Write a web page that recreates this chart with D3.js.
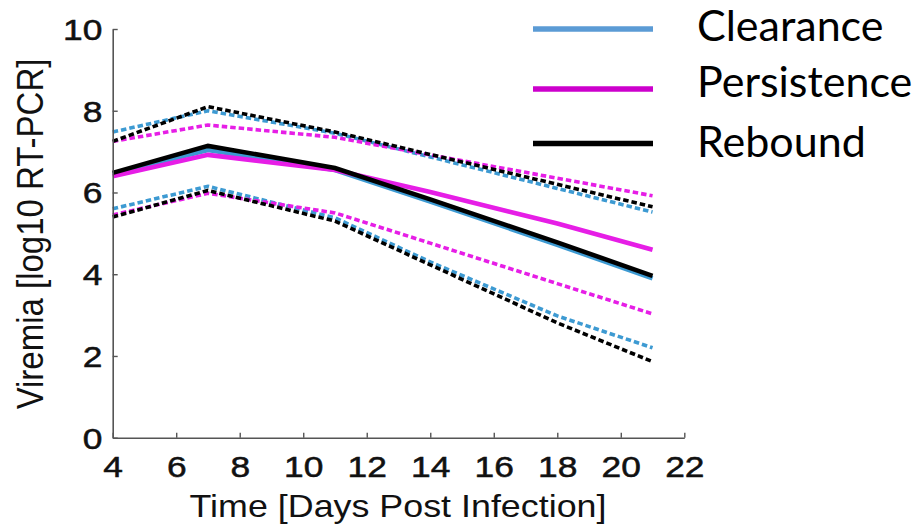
<!DOCTYPE html>
<html>
<head>
<meta charset="utf-8">
<script src="https://cdn.jsdelivr.net/npm/d3@7"></script>
<style>
  body { margin: 0; background: #fff; }
  svg { display: block; }
</style>
</head>
<body>
<div id="chart"></div>
<script>
// days post infection where the curves have vertices
var days = [4, 7, 11, 14, 18, 21];

var clearanceMean  = [6.45, 7.04, 6.55, 5.78, 4.72, 3.90];
var clearanceUpper = [7.48, 8.00, 7.45, 6.87, 6.10, 5.52];
var clearanceLower = [5.60, 6.15, 5.38, 4.30, 2.98, 2.20];

var persistenceMean  = [6.40, 6.92, 6.55, 6.01, 5.24, 4.60];
var persistenceUpper = [7.25, 7.65, 7.35, 6.92, 6.35, 5.92];
var persistenceLower = [5.45, 5.98, 5.50, 4.76, 3.77, 3.03];

var reboundMean  = [6.48, 7.14, 6.60, 5.83, 4.78, 3.96];
var reboundUpper = [7.25, 8.10, 7.48, 6.93, 6.20, 5.65];
var reboundLower = [5.40, 6.05, 5.30, 4.23, 2.81, 1.86];

var groupNames = ["Clearance", "Persistence", "Rebound"];
var xTicks = [4, 6, 8, 10, 12, 14, 16, 18, 20, 22];
var yTicks = [0, 2, 4, 6, 8, 10];

var lineColors   = {Clearance: "#3d9ad2", Persistence: "#e61ee6", Rebound: "#000000"};
var legendColors = {Clearance: "#5b9bd5", Persistence: "#cc00cc", Rebound: "#000000"};

var groups = [
  {name: "Clearance",   mean: clearanceMean,   upper: clearanceUpper,   lower: clearanceLower},
  {name: "Persistence", mean: persistenceMean, upper: persistenceUpper, lower: persistenceLower},
  {name: "Rebound",     mean: reboundMean,     upper: reboundUpper,     lower: reboundLower}
];

var width = 920, height = 524;

var svg = d3.select("#chart")
  .append("svg")
  .attr("width", width)
  .attr("height", height);

var x = d3.scaleLinear().domain([4, 22]).range([112.7, 684.3]);
var y = d3.scaleLinear().domain([0, 10]).range([437.7, 29]);

var line = d3.line()
  .x(function(d){ return x(d[0]); })
  .y(function(d){ return y(d[1]); });

function pts(vals){
  return days.map(function(d, i){ return [d, vals[i]]; });
}

// dashed bounds first, then the means
var plot = svg.append("g");
groups.forEach(function(g){
  [g.upper, g.lower].forEach(function(v){
    plot.append("path")
      .attr("d", line(pts(v)))
      .attr("fill", "none")
      .attr("stroke", lineColors[g.name])
      .attr("stroke-width", 3.6)
      .attr("stroke-dasharray", "5.5,3");
  });
});
groups.forEach(function(g){
  plot.append("path")
    .attr("d", line(pts(g.mean)))
    .attr("fill", "none")
    .attr("stroke", lineColors[g.name])
    .attr("stroke-width", 4.6);
});

// axes
var xAxis = svg.append("g")
  .attr("transform", "translate(0," + y(0) + ")")
  .call(d3.axisBottom(x).tickValues(xTicks).tickSizeInner(-5).tickSizeOuter(0).tickPadding(10));
var yAxis = svg.append("g")
  .attr("transform", "translate(" + x(4) + ",0)")
  .call(d3.axisLeft(y).tickValues(yTicks).tickSizeInner(-5).tickSizeOuter(0).tickPadding(10));

[xAxis, yAxis].forEach(function(a){
  a.select(".domain").attr("stroke", "#555").attr("stroke-width", 1.6);
  a.selectAll(".tick line").attr("stroke", "#555").attr("stroke-width", 1.4);
  a.selectAll("text")
    .attr("fill", "#111")
    .attr("stroke", "#111")
    .attr("stroke-width", 0.5)
    .style("font-family", "'Liberation Sans', Arial, sans-serif")
    .style("font-size", "29px");
});
xAxis.selectAll("text").attr("dy", "0").attr("y", 39).attr("transform", "scale(1.22,1)");
yAxis.selectAll("text").attr("x", -8.5).attr("dy", "0.36em").attr("transform", "scale(1.22,1)");

// axis titles
svg.append("text")
  .attr("transform", "translate(398,517) scale(1.12,1)")
  .attr("text-anchor", "middle")
  .style("font-family", "'Liberation Sans', Arial, sans-serif")
  .style("font-size", "32px")
  .attr("fill", "#111")
  .text("Time [Days Post Infection]");

svg.append("text")
  .attr("transform", "translate(43,234) scale(1.1,1) rotate(-90)")
  .attr("text-anchor", "middle")
  .style("font-family", "'Liberation Sans', Arial, sans-serif")
  .style("font-size", "33px")
  .attr("fill", "#111")
  .text("Viremia [log10 RT-PCR]");

// legend
var legendY = [29, 89, 143.5];
var legendTextY = [41, 97, 157];
var legend = svg.selectAll(".legend")
  .data(groupNames)
  .enter()
  .append("g")
  .attr("class", "legend");

legend.append("line")
  .attr("x1", 533).attr("x2", 653)
  .attr("y1", function(d, i){ return legendY[i]; })
  .attr("y2", function(d, i){ return legendY[i]; })
  .attr("stroke", function(d){ return legendColors[d]; })
  .attr("stroke-width", 5.5);

legend.append("text")
  .attr("x", 697)
  .attr("y", function(d, i){ return legendTextY[i]; })
  .style("font-family", "Lato, 'Open Sans', sans-serif")
  .style("font-size", "43px")
  .attr("fill", "#000")
  .text(function(d){ return d; });
</script>
</body>
</html>
